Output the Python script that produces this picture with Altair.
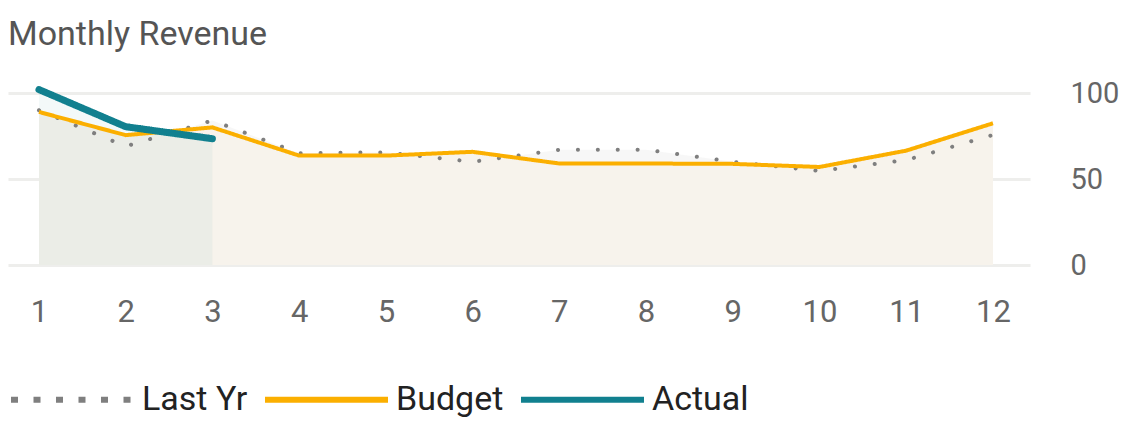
import altair as alt
import pandas as pd

months = list(range(1, 13))
last_yr = [90, 69, 84, 65, 65.5, 60, 67, 67, 60, 54.7, 61, 75.6]
budget = [89, 75.5, 80, 63.6, 63.6, 65.8, 59, 59, 58.8, 57, 66.5, 82.4]
actual_months = [1, 2, 3]
actual = [102, 80.4, 73.4]

series_names = ["Last Yr", "Budget", "Actual"]
series_colors = ["#7f7f7f", "#FBAF00", "#11808F"]
series_dashes = [[7, 15.5], [1, 0], [1, 0]]

df_last = pd.DataFrame({"month": months, "value": last_yr, "series": "Last Yr"})
df_budget = pd.DataFrame({"month": months, "value": budget, "series": "Budget"})
df_actual = pd.DataFrame({"month": actual_months, "value": actual, "series": "Actual"})

FONT = "Roboto"

x = alt.X("month:Q",
          scale=alt.Scale(domain=[0.643, 12.427], nice=False, zero=False),
          axis=alt.Axis(values=months, format="d", title=None, grid=False, domain=False,
                        ticks=False, labelFontSize=31, labelColor="#666", labelFont=FONT,
                        labelPadding=32, labelFlush=False))
y = alt.Y("value:Q",
          scale=alt.Scale(domain=[0, 100], nice=False),
          axis=alt.Axis(orient="right", values=[0, 50, 100], title=None, domain=False,
                        ticks=False, labelFontSize=29, labelColor="#666", labelFont=FONT,
                        labelPadding=40, labelAlign="left", gridColor="#eeeeec",
                        gridWidth=3))

legend = alt.Legend(
    title=None, orient="none", direction="horizontal",
    legendX=0, legendY=242,
    symbolType="stroke", symbolSize=15129, symbolStrokeWidth=6,
    labelFontSize=34, labelFont=FONT, labelColor="#222",
    labelOffset=5, columnPadding=5)

color = alt.Color("series:N",
                  scale=alt.Scale(domain=series_names, range=series_colors),
                  legend=legend)
dash = alt.StrokeDash("series:N",
                      scale=alt.Scale(domain=series_names, range=series_dashes),
                      legend=legend)

area_last = alt.Chart(df_last).mark_area(color="#999999", opacity=0.08).encode(x=x, y=y)
area_budget = alt.Chart(df_budget).mark_area(color="#f7f3ec", opacity=1).encode(x=x, y=y)
area_actual = alt.Chart(df_actual).mark_area(color="#11808F", opacity=0.05).encode(x=x, y=y)

line_last = alt.Chart(df_last).mark_line(strokeWidth=4, strokeDash=[0.1, 19.8], strokeCap="round").encode(
    x=x, y=y, color=color)
line_budget = alt.Chart(df_budget).mark_line(strokeWidth=4).encode(x=x, y=y, color=color, strokeDash=dash)
line_actual = alt.Chart(df_actual).mark_line(strokeWidth=7, strokeCap="round").encode(
    x=x, y=y, color=color, strokeDash=dash)

chart = alt.layer(area_last, area_budget, area_actual, line_last, line_budget, line_actual).properties(
    width=1022, height=172,
    title=alt.TitleParams("Monthly Revenue", anchor="start", fontSize=34, font=FONT,
                          fontWeight="normal", color="#555", offset=24),
    autosize=alt.AutoSizeParams(type="none"),
    padding={"left": 0, "top": 85, "right": 90, "bottom": 152},
).configure_view(stroke=None)

chart.save("out.html", embed_options={"renderer": "svg", "actions": False})
